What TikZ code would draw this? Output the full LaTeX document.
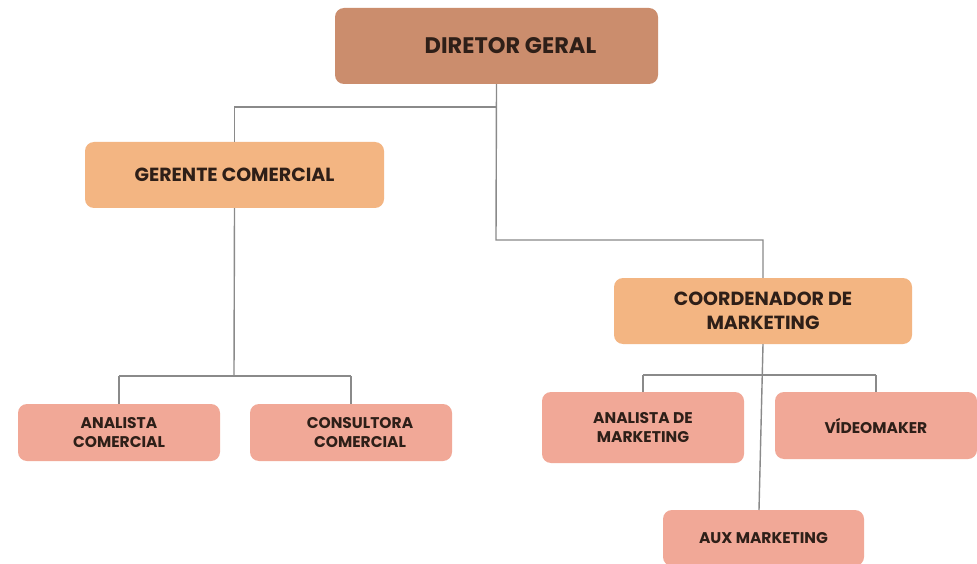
\documentclass[tikz,border=0pt]{standalone}
\usepackage{fontspec}
\setmainfont{Poppins}
\definecolor{dirc}{HTML}{CB8D6D}
\definecolor{gerc}{HTML}{F3B582}
\definecolor{subc}{HTML}{F1A897}
\definecolor{linec}{HTML}{8A8A8A}
\definecolor{txtc}{HTML}{2E1F18}
\begin{document}
\begin{tikzpicture}[x=1pt,y=-1pt,
  box/.style={rounded corners=9pt, inner sep=0pt, text=txtc, font=\bfseries, align=center},
  small/.style={font=\bfseries\fontsize{15.5}{19}\selectfont},
  conn/.style={draw=linec, line width=1.4pt}]
\useasboundingbox (0,0) rectangle (977,564);
\fill[white] (0,0) rectangle (977,564);
% boxes
\node[box, fill=dirc, minimum width=323pt, minimum height=76pt, font=\bfseries\fontsize{22.5}{24}\selectfont] (dir) at (496.5,46) {\hspace*{28pt}DIRETOR GERAL};
\node[box, fill=gerc, minimum width=299pt, minimum height=66pt, font=\bfseries\fontsize{19}{21}\selectfont] (ger) at (234.5,175) {GERENTE COMERCIAL};
\node[box, fill=gerc, minimum width=298pt, minimum height=66pt, font=\bfseries\fontsize{19}{24}\selectfont] (coo) at (763,311) {COORDENADOR DE\\MARKETING};
\node[box, small, fill=subc, minimum width=202pt, minimum height=57pt] (ac) at (119,432.5) {ANALISTA\\COMERCIAL};
\node[box, small, fill=subc, minimum width=202pt, minimum height=57pt] (cc) at (351,432.5) {\hspace*{18pt}CONSULTORA\\\hspace*{18pt}COMERCIAL};
\node[box, small, fill=subc, minimum width=202pt, minimum height=71pt] (am) at (643,427.5) {ANALISTA DE\\MARKETING};
\node[box, small, fill=subc, minimum width=202pt, minimum height=67pt] (vm) at (876,425.5) {VÍDEOMAKER};
\node[box, small, fill=subc, minimum width=201pt, minimum height=56pt] (ax) at (763.5,538) {AUX MARKETING};
% junction coordinates
\coordinate (j1) at (496,107);
\coordinate (j2) at (496,240);
\coordinate (j3) at (234,376);
\coordinate (j4) at (764,375);
\coordinate (axtop) at (759,510);
% connectors
\draw[conn] (dir.south) -- (j2) -| (coo.north);
\draw[conn] (j1) -| (ger.north);
\draw[conn] (ger.south) -- (j3);
\draw[conn] (j3 -| ac.north) -- (j3 -| cc.north);
\draw[conn] (j3 -| ac.north) -- (ac.north);
\draw[conn] (j3 -| cc.north) -- (cc.north);
\draw[conn] (coo.south) -- (axtop);
\draw[conn] (j4 -| am.north) -- (j4 -| vm.north);
\draw[conn] (j4 -| am.north) -- (am.north);
\draw[conn] (j4 -| vm.north) -- (vm.north);
\end{tikzpicture}
\end{document}
